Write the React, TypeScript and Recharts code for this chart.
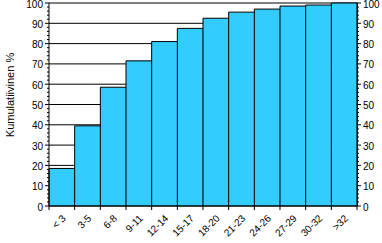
// Kumulatiivinen jakauma -pylväskaavio
import { ComposedChart, Bar, Line, XAxis, YAxis, CartesianGrid } from 'recharts';

const categories = ['< 3', '3-5', '6-8', '9-11', '12-14', '15-17', '18-20', '21-23', '24-26', '27-29', '30-32', '>32'];
const cumulative = [18.5, 39.5, 58.5, 71.5, 81, 87.5, 92.5, 95.5, 97, 98.5, 99, 100];
const yTicks = [0, 10, 20, 30, 40, 50, 60, 70, 80, 90, 100];
const yMinor = Array.from({ length: 51 }, (_, i) => i * 2);

const data = categories.map((name, i) => ({ name, value: cumulative[i] }));

const FONT = '"Liberation Sans", Arial, sans-serif';
const BAND = 25.67;

function LeftTick({ x, y, payload }: any) {
  const major = yTicks.includes(payload.value);
  return (
    <g>
      <line x1={x} x2={x - (major ? 4 : 2)} y1={y} y2={y} stroke="#000" />
      {major && (
        <text x={x - 6} y={y + 4.5} textAnchor="end" fontSize={10} fontFamily={FONT} fill="#000">
          {payload.value}
        </text>
      )}
    </g>
  );
}

function RightTick({ x, y, payload }: any) {
  const major = yTicks.includes(payload.value);
  return (
    <g>
      <line x1={x} x2={x + (major ? 4 : 2)} y1={y} y2={y} stroke="#000" />
      {major && (
        <text x={x + 6} y={y + 4.5} textAnchor="start" fontSize={10} fontFamily={FONT} fill="#000">
          {payload.value}
        </text>
      )}
    </g>
  );
}

function XTick({ x, y, payload, index }: any) {
  const left = x - BAND / 2;
  const last = index === categories.length - 1;
  const tx = x + 4.5;
  const ty = y + 13;
  return (
    <g>
      <line x1={left} x2={left} y1={y} y2={y + 4} stroke="#000" />
      {last && <line x1={x + BAND / 2} x2={x + BAND / 2} y1={y} y2={y + 4} stroke="#000" />}
      <text
        x={tx}
        y={ty}
        textAnchor="end"
        fontSize={10}
        fontFamily={FONT}
        fill="#000"
        transform={`rotate(-45 ${tx} ${ty})`}
      >
        {payload.value}
      </text>
    </g>
  );
}

export default function App() {
  return (
    <div style={{ position: 'absolute', left: 0, top: 0, background: '#fff' }}>
      <ComposedChart
        width={382}
        height={243}
        data={data}
        margin={{ top: 3, right: 0, left: 0, bottom: 0 }}
        barCategoryGap={0}
      >
        <CartesianGrid
          yAxisId="left"
          vertical={false}
          horizontalValues={[10, 20, 30, 40, 50, 60, 70, 80, 90, 100]}
          stroke="#000"
          strokeDasharray=""
        />
        <XAxis
          dataKey="name"
          height={37}
          interval={0}
          tickLine={false}
          tickSize={0}
          tickMargin={0}
          axisLine={{ stroke: '#000' }}
          tick={<XTick />}
        />
        <YAxis
          yAxisId="left"
          width={49}
          domain={[0, 100]}
          ticks={yMinor}
          interval={0}
          tickLine={false}
          tickSize={0}
          tickMargin={0}
          axisLine={{ stroke: '#000' }}
          tick={<LeftTick />}
          label={() => (
            <text
              x={14}
              y={95}
              textAnchor="middle"
              fontSize={11}
              fontFamily={FONT}
              fill="#000"
              transform="rotate(-90 14 95)"
            >
              Kumulatiivinen %
            </text>
          )}
        />
        <YAxis
          yAxisId="right"
          orientation="right"
          width={25}
          domain={[0, 100]}
          ticks={yMinor}
          interval={0}
          tickLine={false}
          tickSize={0}
          tickMargin={0}
          axisLine={{ stroke: '#000' }}
          tick={<RightTick />}
        />
        <Bar
          yAxisId="left"
          dataKey="value"
          fill="#33CCFF"
          stroke="#000"
          strokeWidth={1}
          isAnimationActive={false}
        />
        <Line
          yAxisId="right"
          dataKey="value"
          stroke="none"
          dot={false}
          activeDot={false}
          legendType="none"
          isAnimationActive={false}
        />
      </ComposedChart>
    </div>
  );
}
